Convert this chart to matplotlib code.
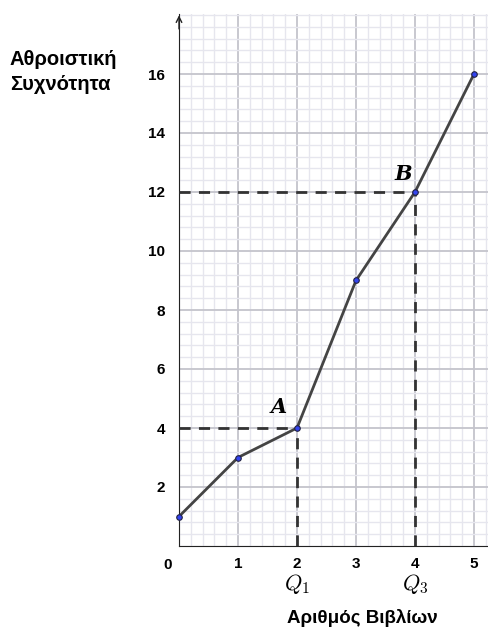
import numpy as np
import matplotlib.pyplot as plt
from matplotlib.ticker import MultipleLocator

plt.rcParams['font.family'] = ['Liberation Sans', 'DejaVu Sans']
plt.rcParams['mathtext.fontset'] = 'cm'

# data
books = [0, 1, 2, 3, 4, 5]
cum_freq = [1, 3, 4, 9, 12, 16]
q1 = 2
q1_val = 4
q3 = 4
q3_val = 12

fig = plt.figure(figsize=(4.88, 6.32), dpi=100)
ax = fig.add_axes([179/488, 86/632, 1 - 179/488, (546-14)/632])
ax.set_xlim(0, (488-179)/59)
ax.set_ylim(0, (546-14)/29.5)

ax.xaxis.set_major_locator(MultipleLocator(1))
ax.xaxis.set_minor_locator(MultipleLocator(0.2))
ax.yaxis.set_major_locator(MultipleLocator(2))
ax.yaxis.set_minor_locator(MultipleLocator(0.4))
ax.grid(which='major', color='#c4c4cc', lw=1.3, zorder=0)
ax.grid(which='minor', color='#e6e6ee', lw=1.0, zorder=0)
ax.set_axisbelow(True)

for s in ['top', 'right']:
    ax.spines[s].set_visible(False)
ax.spines['left'].set_color('#222222')
ax.spines['bottom'].set_color('#222222')
ax.tick_params(which='both', length=0)
ax.tick_params(axis='x', pad=8)
ax.tick_params(axis='y', pad=10)

ax.set_xticks(books[1:])
ax.set_xticklabels([str(b) for b in books[1:]], fontweight='bold', fontsize=11)
ax.set_yticks([2, 4, 6, 8, 10, 12, 14, 16])
ax.set_yticklabels(['2', '4', '6', '8', '10', '12', '14', '16'], fontweight='bold', fontsize=11)
ax.text(-0.2, -0.65, '0', ha='center', va='center', fontweight='bold', fontsize=11)

# arrow on y axis
ax.annotate('', xy=(0, ax.get_ylim()[1] + 0.05), xytext=(0, ax.get_ylim()[1] - 0.6),
            arrowprops=dict(arrowstyle='->', color='#222222', lw=1), annotation_clip=False)

# dashed quartile lines
ax.plot([0, q1], [q1_val, q1_val], ls=(0, (4, 3)), color='#333333', lw=2, zorder=3)
ax.plot([q1, q1], [0, q1_val], ls=(0, (4, 3)), color='#333333', lw=2, zorder=3)
ax.plot([0, q3], [q3_val, q3_val], ls=(0, (4, 3)), color='#333333', lw=2, zorder=3)
ax.plot([q3, q3], [0, q3_val], ls=(0, (4, 3)), color='#333333', lw=2, zorder=3)

ax.plot(books, cum_freq, color='#444444', lw=2, zorder=4, clip_on=False)
ax.plot(books, cum_freq, 'o', ms=4, mfc='#3344ee', mec='#222244', mew=0.8, zorder=5, clip_on=False)

ax.text(1.69, 4.7, 'A', fontsize=15, ha='center', va='center', style='italic',
        fontweight='bold', family='DejaVu Serif')
ax.text(3.8, 12.6, 'B', fontsize=15, ha='center', va='center', style='italic',
        fontweight='bold', family='DejaVu Serif')

ax.text(q1, -1.3, '$Q_1$', fontsize=16, ha='center', va='center', clip_on=False)
ax.text(q3, -1.3, '$Q_3$', fontsize=16, ha='center', va='center', clip_on=False)

fig.text(362/488, 1 - 618/632, 'Αριθμός Βιβλίων', ha='center', va='center',
         fontsize=13.5, fontweight='bold')
fig.text(10/488, 1 - 72/632, 'Αθροιστική\nΣυχνότητα', ha='left', va='center',
         fontsize=14.5, fontweight='bold', linespacing=1.4)

fig.savefig('out.png', dpi=100)
